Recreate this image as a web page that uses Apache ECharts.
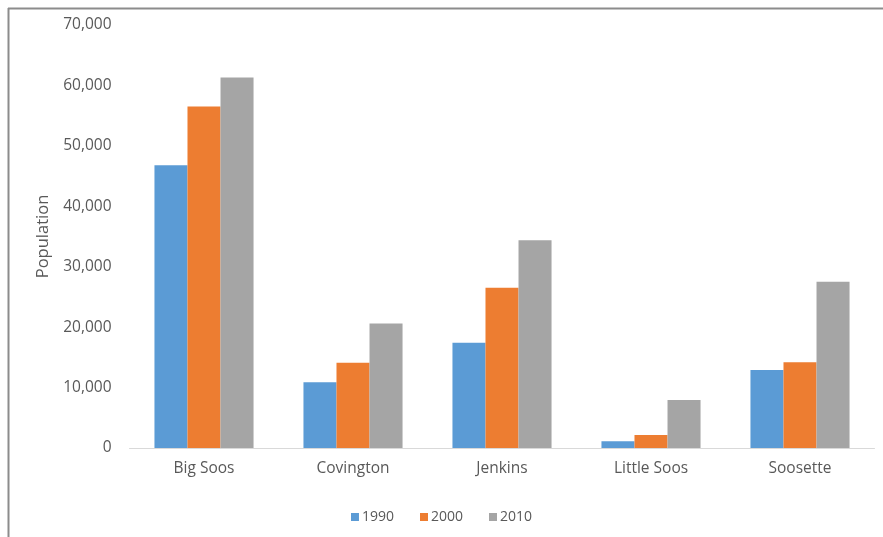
<!DOCTYPE html>
<html><head><meta charset="utf-8">
<script src="https://cdn.jsdelivr.net/npm/echarts@6/dist/echarts.min.js"></script>
<style>html,body{margin:0;padding:0;background:#fff}#c{width:883px;height:537px}</style>
</head><body><div id="c"></div>
<script>
const categories = ["Big Soos", "Covington", "Jenkins", "Little Soos", "Soosette"];
const seriesNames = ["1990", "2000", "2010"];
const values1990 = [46800, 10900, 17400, 1100, 12900];
const values2000 = [56500, 14100, 26500, 2150, 14200];
const values2010 = [61300, 20600, 34400, 7950, 27500];
const yTicks = [0, 10000, 20000, 30000, 40000, 50000, 60000, 70000];

const colors = ["#5b9bd5", "#ed7d31", "#a5a5a5"];
const font = "'Open Sans', 'Liberation Sans', sans-serif";
const chart = echarts.init(document.getElementById('c'));
const data = [values1990, values2000, values2010];
chart.setOption({
  animation: false,
  backgroundColor: '#fff',
  grid: {left: 129.5, right: 8.5, top: 25, bottom: 89, containLabel: false},
  xAxis: {
    type: 'category', data: categories,
    axisLine: {lineStyle: {color: '#d9d9d9', width: 1}},
    axisTick: {show: false},
    axisLabel: {color: '#595959', fontSize: 15.5, fontFamily: font, margin: 13}
  },
  yAxis: {
    type: 'value', min: yTicks[0], max: yTicks[yTicks.length - 1], interval: 10000,
    name: 'Population', nameLocation: 'middle', nameGap: 78, nameRotate: 90,
    nameTextStyle: {color: '#595959', fontSize: 16.5, fontFamily: font},
    splitLine: {show: false},
    axisLine: {show: false}, axisTick: {show: false},
    axisLabel: {color: '#595959', fontSize: 15.5, fontFamily: font, margin: 18,
      formatter: v => v.toLocaleString('en-US')}
  },
  legend: {
    top: 505, left: 'center', itemWidth: 8, itemHeight: 8, itemGap: 26,
    icon: 'rect',
    textStyle: {color: '#595959', fontSize: 14, fontFamily: font, padding: [0,0,0,-2]},
    data: seriesNames
  },
  series: seriesNames.map((n, i) => ({
    name: n, type: 'bar', data: data[i],
    itemStyle: {color: colors[i]},
    barGap: '0%', barCategoryGap: '33.5%'
  })),
  graphic: [
    {type: 'line', shape: {x1: 8, y1: 8.5, x2: 883, y2: 8.5}, style: {stroke: '#8c8c8c', lineWidth: 2}, silent: true},
    {type: 'line', shape: {x1: 8.5, y1: 8, x2: 8.5, y2: 537}, style: {stroke: '#8c8c8c', lineWidth: 2}, silent: true}
  ]
});
</script></body></html>
